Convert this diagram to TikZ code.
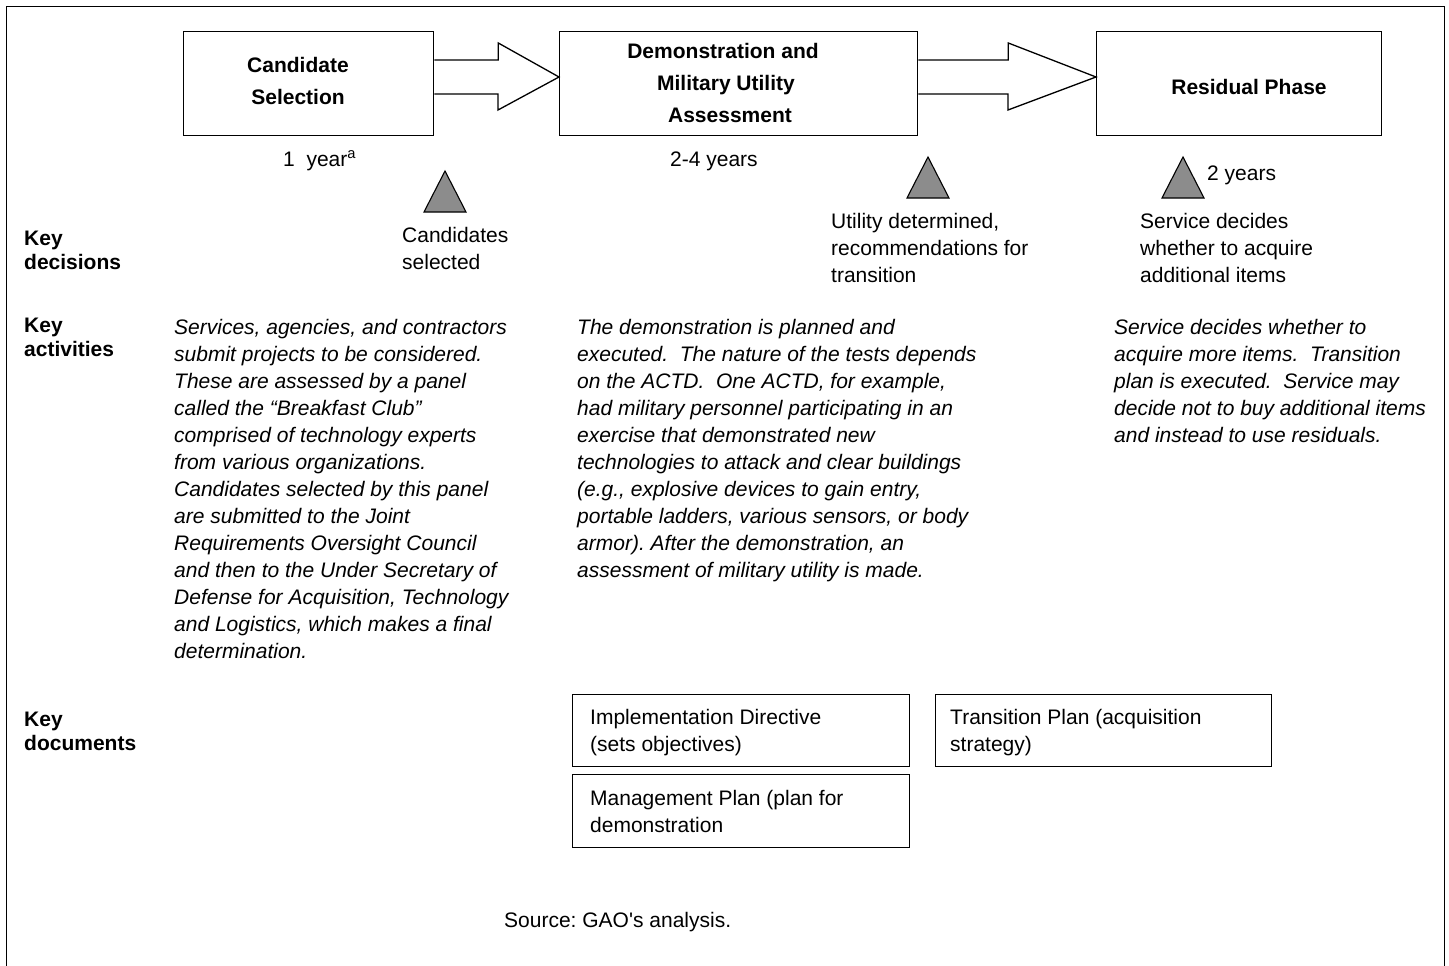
\documentclass[tikz,border=0pt]{standalone}
\usepackage{fontspec}
\setmainfont{Liberation Sans}[Ligatures=TeXOff]
\usetikzlibrary{calc}
\newcommand\mystrut{\rule{0pt}{16pt}}
\frenchspacing
\begin{document}
\frenchspacing
\begin{tikzpicture}[x=1pt,y=-1pt,
  phasebox/.style={draw, line width=1.3pt, anchor=north west, inner sep=0pt, minimum width=#1},
  docbox/.style={draw, line width=1.3pt, anchor=north west, inner sep=0pt, minimum width=337pt, minimum height=72pt},
  blockarr/.style={draw, line width=1.3pt, fill=white, line join=miter},
  tri/.style={draw, line width=1.1pt, fill=black!45, line join=miter},
  txt/.style={anchor=north west, inner sep=0pt, align=left, font=\fontsize{21}{27}\selectfont},
  itxt/.style={txt, font=\itshape\fontsize{21}{27}\selectfont},
  ktxt/.style={anchor=north west, inner sep=0pt, align=left, font=\bfseries\fontsize{21}{24}\selectfont},
  btxt/.style={anchor=north, inner sep=0pt, align=center, font=\bfseries\fontsize{21}{32}\selectfont}
]
\useasboundingbox (0,0) rectangle (1449,966);
\clip (0,0) rectangle (1449,966);
\fill[white] (0,0) rectangle (1449,966);
% outer frame
\draw[line width=1.2pt] (6.5,990) -- (6.5,6.5) -- (1444.5,6.5) -- (1444.5,990);

% phase boxes
\node[phasebox=250pt, minimum height=104pt] (cs) at (183,31) {};
\node[phasebox=358pt, minimum height=104pt] (dm) at (559,31) {};
\node[phasebox=285pt, minimum height=104pt] (rp) at (1096,31) {};

% block arrows
\draw[blockarr] ($(cs.north east)+(0,29)$) -- ++(64,0) -- ++(0,-17)
  -- ($(dm.north west)+(0,46)$) -- ++(-61,33) -- ++(0,-16)
  -- ($(cs.north east)+(0,63)$);
\draw[blockarr] ($(dm.north east)+(0,29)$) -- ++(90,0) -- ++(0,-17)
  -- ($(rp.north west)+(0,46)$) -- ++(-88,33) -- ++(0,-16)
  -- ($(dm.north east)+(0,63)$);

% titles
\node[btxt] (t1) at (298,56) {\mystrut Candidate\\Selection};
\node[btxt] (t2) at (723,42) {\mystrut Demonstration and\\\hspace*{6pt}Military Utility\\\hspace*{14pt}Assessment};
\node[btxt] (t3) at (1249,78) {\mystrut Residual Phase};

% durations
\node[txt] (d1) at (283,150) {\mystrut 1\ \ year\textsuperscript{a}};
\node[txt] (d2) at (670,150) {\mystrut 2-4 years};

% triangles
\draw[tri] (445,171) -- (466,212) -- (424,212) -- cycle;
\draw[tri] (928,157) -- (949,198) -- (907,198) -- cycle;
\draw[tri] (1183,157) -- (1204,198) -- (1162,198) -- cycle;
\node[txt] (d3) at (1207,164) {\mystrut 2 years};

% row labels
\node[ktxt] (kd) at (24,229) {\mystrut Key\\decisions};
\node[ktxt] (ka) at (24,316) {\mystrut Key\\activities};
\node[ktxt] (kdoc) at (24,710) {\mystrut Key\\documents};

% decisions
\node[txt] (dec1) at (402,226) {\mystrut Candidates\\selected};
\node[txt] (dec2) at (831,212) {\mystrut Utility determined,\\recommendations for\\transition};
\node[txt] (dec3) at (1140,212) {\mystrut Service decides\\whether to acquire\\additional items};

% activities
\node[itxt] (act1) at (174,318) {\mystrut Services, agencies, and contractors\\
submit projects to be considered.\\
These are assessed by a panel\\
called the “Breakfast Club”\\
comprised of technology experts\\
from various organizations.\\
Candidates selected by this panel\\
are submitted to the Joint\\
Requirements Oversight Council\\
and then to the Under Secretary of\\
Defense for Acquisition, Technology\\
and Logistics, which makes a final\\
determination.};
\node[itxt] (act2) at (577,318) {\mystrut The demonstration is planned and\\
executed.\ \ The nature of the tests depends\\
on the ACTD.\ \ One ACTD, for example,\\
had military personnel participating in an\\
exercise that demonstrated new\\
technologies to attack and clear buildings\\
(e.g., explosive devices to gain entry,\\
portable ladders, various sensors, or body\\
armor). After the demonstration, an\\
assessment of military utility is made.};
\node[itxt] (act3) at (1114,318) {\mystrut Service decides whether to\\
acquire more items.\ \ Transition\\
plan is executed.\ \ Service may\\
decide not to buy additional items\\
and instead to use residuals.};

% documents
\node[docbox] (doc1) at (572,694) {};
\node[docbox, minimum height=73pt] (doc2) at (572,774) {};
\node[docbox, minimum width=336pt] (doc3) at (935,694) {};
\node[txt] (doc1t) at (590,708) {\mystrut Implementation Directive\\(sets objectives)};
\node[txt] (doc2t) at (590,789) {\mystrut Management Plan (plan for\\demonstration};
\node[txt] (doc3t) at (950,708) {\mystrut Transition Plan (acquisition\\strategy)};

% source
\node[txt] (src) at (504,911) {\mystrut Source: GAO's analysis.};
\end{tikzpicture}
\end{document}
